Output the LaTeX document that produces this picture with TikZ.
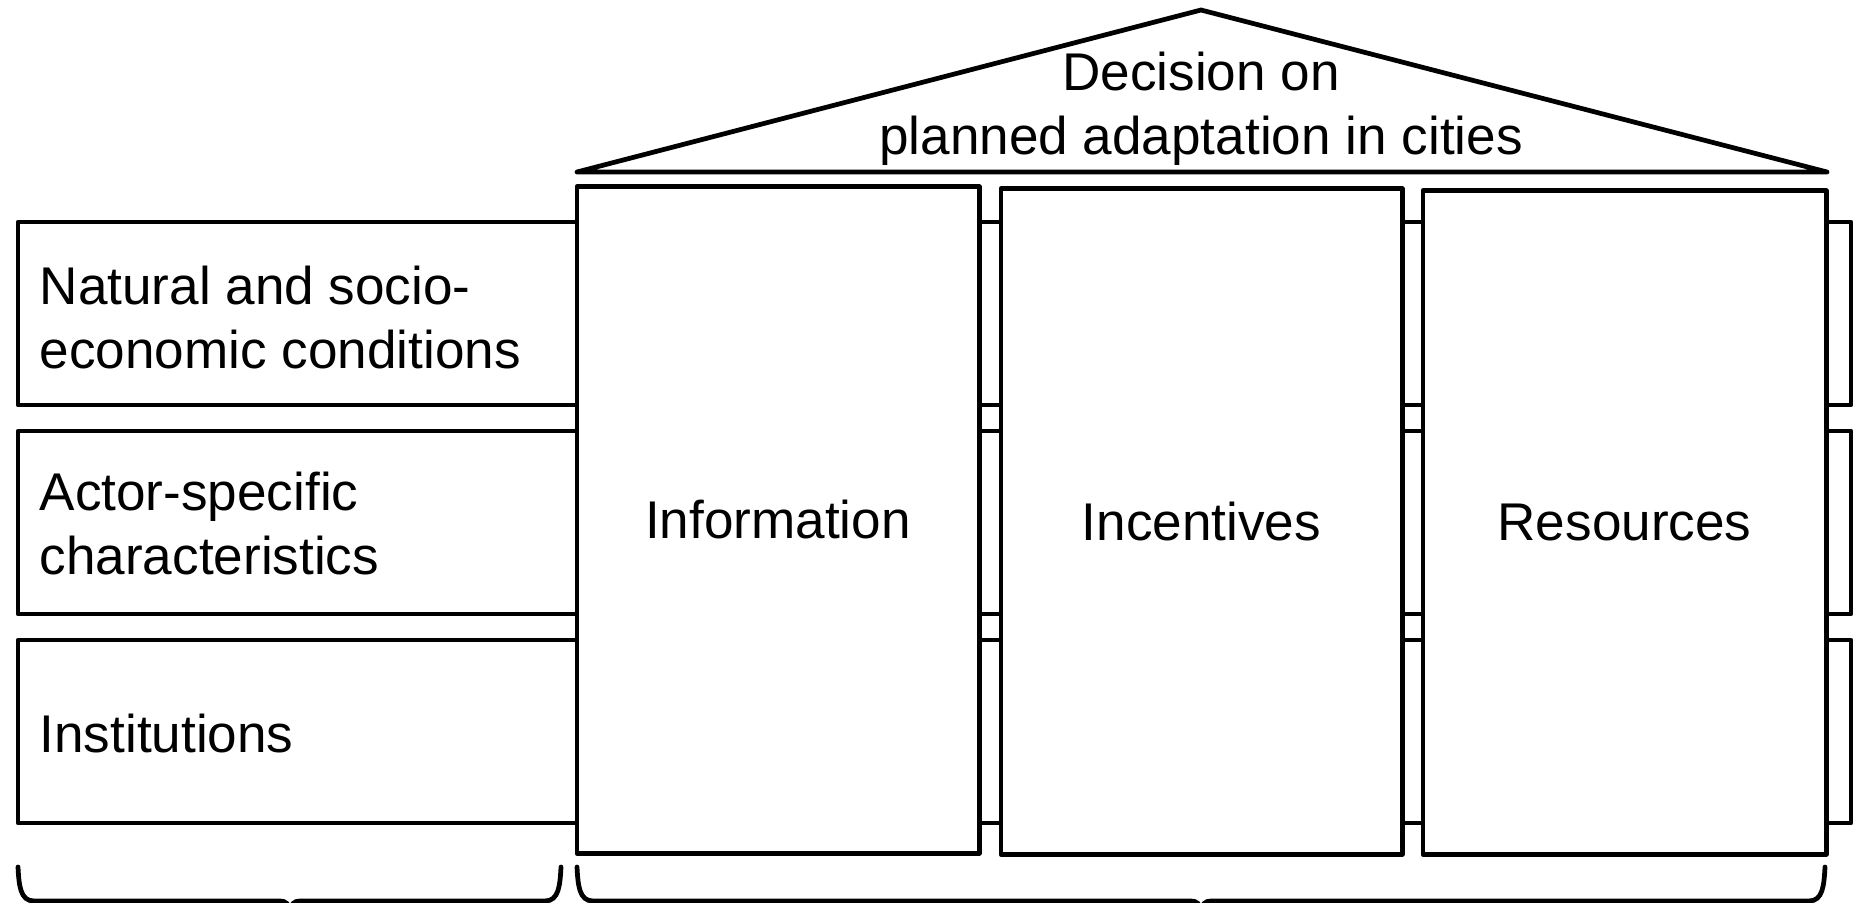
\documentclass[tikz,border=0pt]{standalone}
\usepackage{fontspec}
\setmainfont{Liberation Sans}
\begin{document}
\begin{tikzpicture}[x=0.01cm,y=-0.01cm,
  outline/.style={draw=black,line width=1.35pt,line join=round},
  txt/.style={font=\fontsize{15.1}{18.2}\selectfont},
  barbox/.style={outline,fill=white},
  pillar/.style={outline,fill=white,rectangle,inner sep=0pt,outer sep=0pt,txt},
  barlabel/.style={inner sep=0pt,align=left,anchor=west,txt},
  bracket/.style={draw=black,line width=1.35pt,line cap=round}]
\useasboundingbox (0,0) rectangle (1854,903);
\clip (0,0) rectangle (1854,903);

% horizontal layers running behind the pillars
\draw[barbox] (18,222) rectangle (1851,405);
\draw[barbox] (18,431) rectangle (1851,614);
\draw[barbox] (18,640) rectangle (1851,823);
\node[barlabel] (natural) at (39,318) {Natural and socio-\\economic conditions};
\node[barlabel] (actor) at (39,524) {Actor-specific\\characteristics};
\node[barlabel] (inst) at (39,734) {Institutions};

% the three pillars
\node[pillar,minimum width=4.02cm,minimum height=6.66cm] (info) at (778,520) {Information};
\node[pillar,minimum width=4.01cm,minimum height=6.65cm] (incent) at (1201.5,521.5) {Incentives};
\node[pillar,minimum width=4.03cm,minimum height=6.63cm] (res) at (1624.5,522.5) {Resources};

% roof
\draw[outline,fill=white] (577,172) -- (1201,10) -- (1827,172) -- cycle;
\node[txt,align=center,inner sep=0pt] (decision) at (1201,109) {Decision on\\planned adaptation in cities};

% braces under the layers and the pillars
\draw[bracket] (18,867) .. controls (19,885) and (20,901) .. (34,901)
  -- (280,901) .. controls (286,901) and (289,904) .. (290,912);
\draw[bracket] (561,867) .. controls (560,885) and (559,901) .. (545,901)
  -- (300,901) .. controls (294,901) and (291,904) .. (290,912);
\draw[bracket] (577,867) .. controls (578,885) and (579,901) .. (593,901)
  -- (1191,901) .. controls (1197,901) and (1200,904) .. (1201,912);
\draw[bracket] (1825,867) .. controls (1824,885) and (1823,901) .. (1809,901)
  -- (1211,901) .. controls (1205,901) and (1202,904) .. (1201,912);
\end{tikzpicture}
\end{document}
